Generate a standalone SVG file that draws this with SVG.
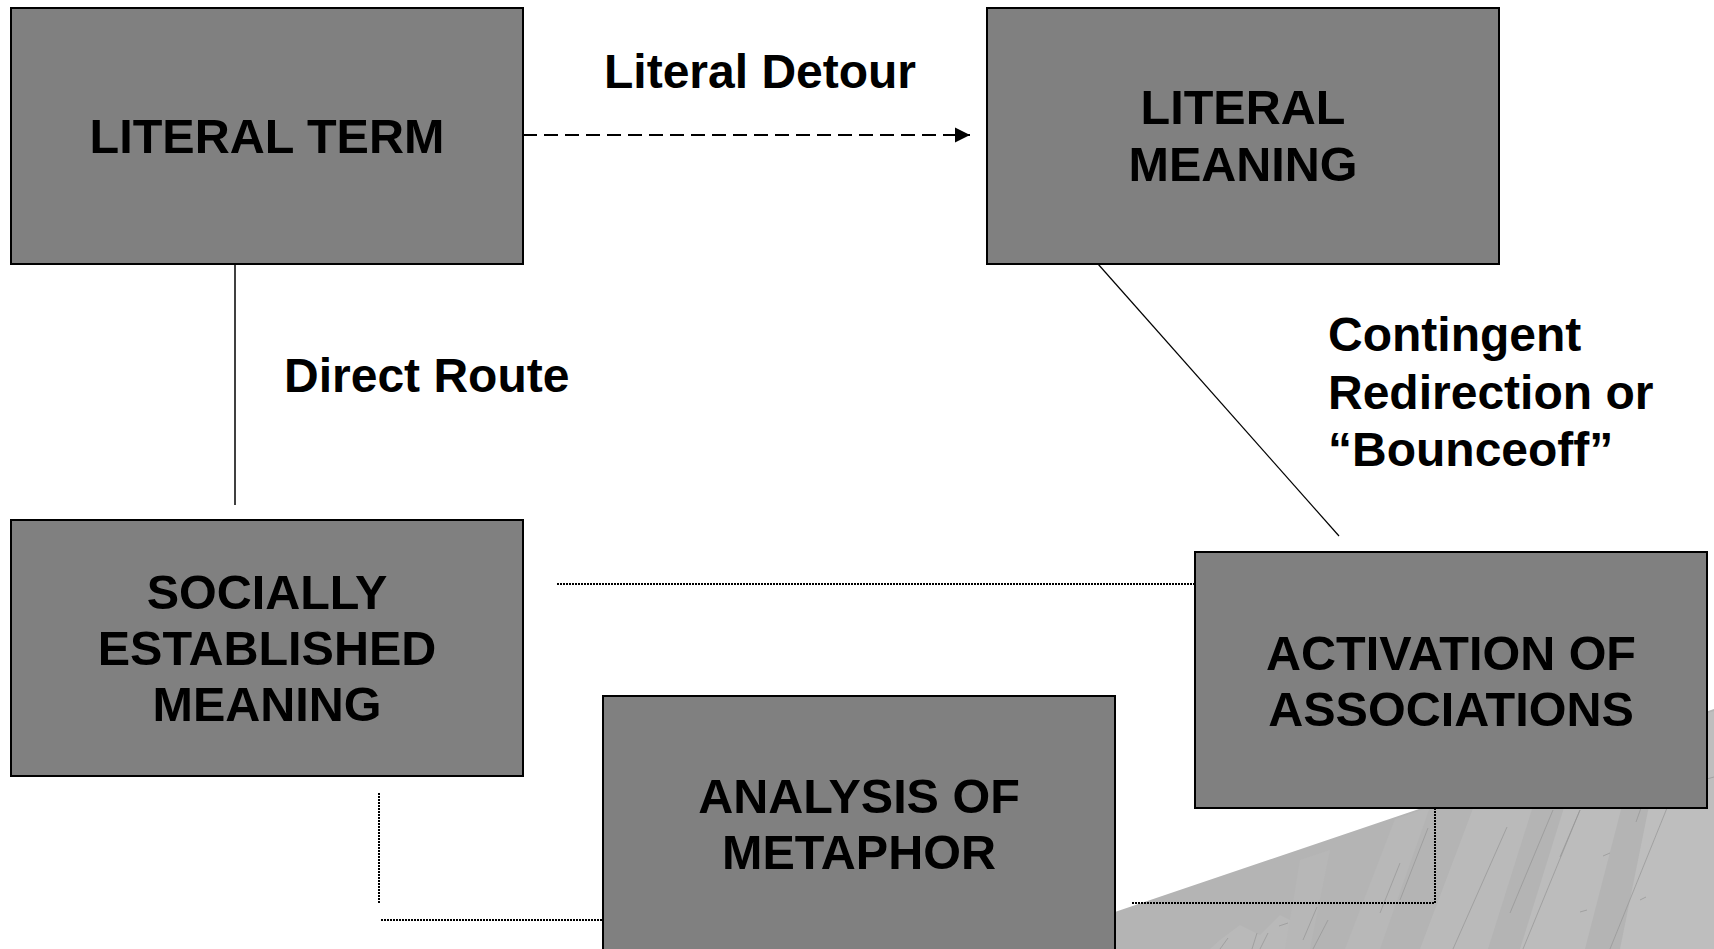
<svg xmlns="http://www.w3.org/2000/svg" width="1714" height="949" viewBox="0 0 1714 949">
<style>
.box{fill:#808080;stroke:#000;stroke-width:2}
.bt{font-family:"Liberation Sans",Arial,sans-serif;font-weight:bold;font-size:48.5px;fill:#000;text-anchor:middle}
.lbl{font-family:"Liberation Sans",Arial,sans-serif;font-weight:bold;font-size:48px;fill:#000}
.dot{fill:none;stroke:#000;stroke-width:2;stroke-dasharray:2 1}
.tex{stroke:#959595;stroke-width:0.7;fill:none}
</style>
<defs>
<marker id="ah" markerWidth="16" markerHeight="16" refX="15" refY="8" orient="auto" markerUnits="userSpaceOnUse">
<path d="M0,0.5 L15,8 L0,15.5 Z" fill="#000"/>
</marker>
</defs>
<rect width="1714" height="949" fill="#fff"/>
<g id="background">
<polygon points="1000,951 1714,709 1714,949 1000,949" fill="#b4b4b4"/>
<polygon points="1480,790 1545,768 1488,949 1420,949" fill="#bababa"/>
<polygon points="1580,756 1640,736 1585,949 1520,949" fill="#bcbcbc"/>
<polygon points="1665,727 1714,711 1714,949 1620,949" fill="#bebebe"/>
<polygon points="1395,819 1430,807 1380,949 1345,949" fill="#b8b8b8"/>
<polygon points="1220,940 1240,925 1260,935 1280,915 1300,925 1290,949 1210,949" fill="#b9b9b9"/>
<polygon points="1300,860 1330,850 1310,949 1285,949" fill="#b7b7b7"/>
<g class="tex">
<line x1="1400" y1="900" x2="1428" y2="828"/>
<line x1="1453" y1="949" x2="1507" y2="827"/>
<line x1="1510" y1="913" x2="1553" y2="810"/>
<line x1="1523" y1="949" x2="1580" y2="810"/>
<line x1="1610" y1="949" x2="1667" y2="808"/>
<line x1="1560" y1="857" x2="1580" y2="810"/>
<line x1="1636" y1="822" x2="1641" y2="808"/>
<line x1="1703" y1="780" x2="1714" y2="777"/>
<line x1="1603" y1="856" x2="1610" y2="853"/>
<line x1="1580" y1="912" x2="1587" y2="910"/>
<line x1="1220" y1="949" x2="1228" y2="938"/>
<line x1="1252" y1="949" x2="1257" y2="933"/>
<line x1="1260" y1="949" x2="1268" y2="933"/>
<line x1="1303" y1="940" x2="1317" y2="907"/>
<line x1="1313" y1="949" x2="1328" y2="920"/>
<line x1="1380" y1="913" x2="1400" y2="863"/>
<line x1="1279" y1="926" x2="1288" y2="923"/>
<line x1="1640" y1="900" x2="1646" y2="897"/>
</g>
</g>
<g id="connectors">
<line x1="523" y1="135" x2="970" y2="135" stroke="#000" stroke-width="2" stroke-dasharray="14 7" marker-end="url(#ah)"/>
<line x1="235" y1="264" x2="235" y2="505" stroke="#000" stroke-width="1.5"/>
<line x1="1098" y1="264" x2="1339" y2="536" stroke="#000" stroke-width="1.2"/>
<line x1="557" y1="584" x2="1195" y2="584" class="dot"/>
<path d="M379,793 V904" class="dot"/>
<path d="M381,920 H603" class="dot"/>
<path d="M1435,808 V903 H1132" class="dot"/>
</g>
<g id="labels">
<text class="lbl" x="604" y="88">Literal Detour</text>
<text class="lbl" x="284" y="392">Direct Route</text>
<text class="lbl" x="1328" y="351">Contingent</text>
<text class="lbl" x="1328" y="409">Redirection or</text>
<text class="lbl" x="1328" y="466">“Bounceoff”</text>
</g>
<g id="literal-term">
<rect class="box" x="11" y="8" width="512" height="256"/>
<text class="bt" x="267" y="153">LITERAL TERM</text>
</g>
<g id="literal-meaning">
<rect class="box" x="987" y="8" width="512" height="256"/>
<text class="bt" x="1243" y="124">LITERAL</text>
<text class="bt" x="1243" y="181">MEANING</text>
</g>
<g id="socially-established-meaning">
<rect class="box" x="11" y="520" width="512" height="256"/>
<text class="bt" x="267" y="609">SOCIALLY</text>
<text class="bt" x="267" y="665">ESTABLISHED</text>
<text class="bt" x="267" y="721">MEANING</text>
</g>
<g id="activation-of-associations">
<rect class="box" x="1195" y="552" width="512" height="256"/>
<text class="bt" x="1451" y="670">ACTIVATION OF</text>
<text class="bt" x="1451" y="726">ASSOCIATIONS</text>
</g>
<g id="analysis-of-metaphor">
<rect class="box" x="603" y="696" width="512" height="256"/>
<text class="bt" x="859" y="813">ANALYSIS OF</text>
<text class="bt" x="859" y="869">METAPHOR</text>
</g>
</svg>
